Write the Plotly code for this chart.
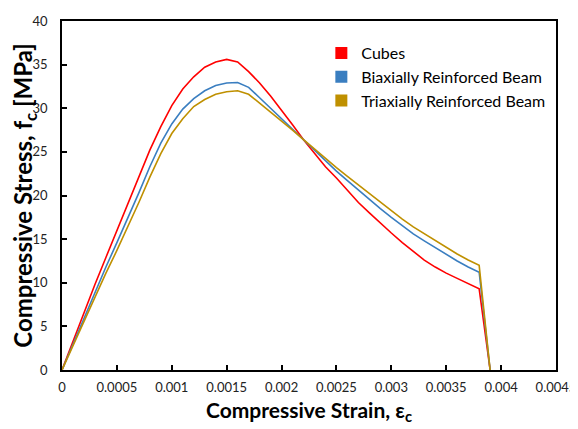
import plotly.graph_objects as go

strain = [0, 0.0001, 0.0002, 0.0003, 0.0004, 0.0005, 0.0006, 0.0007, 0.0008, 0.0009,
          0.001, 0.0011, 0.0012, 0.0013, 0.0014, 0.0015, 0.0016, 0.0017, 0.0018, 0.0019,
          0.002, 0.0021, 0.0022, 0.0023, 0.0024, 0.0025, 0.0026, 0.0027, 0.0028, 0.0029,
          0.003, 0.0031, 0.0032, 0.0033, 0.0034, 0.0035, 0.0036, 0.0037, 0.0038, 0.0039]

cubes = [0, 3.3, 6.6, 9.8, 12.9, 16.0, 19.1, 22.2, 25.2, 27.9,
         30.3, 32.2, 33.6, 34.7, 35.3, 35.6, 35.3, 34.2, 32.9, 31.4,
         29.8, 28.1, 26.4, 24.8, 23.3, 22.0, 20.6, 19.2, 18.0, 16.8,
         15.7, 14.6, 13.6, 12.6, 11.8, 11.1, 10.5, 9.9, 9.3, 0]

biaxial = [0, 3.0, 6.0, 8.9, 11.8, 14.6, 17.4, 20.3, 23.3, 26.0,
           28.2, 29.9, 31.1, 32.0, 32.6, 32.9, 32.95, 32.4, 31.2, 30.0,
           28.8, 27.6, 26.4, 25.1, 23.9, 22.8, 21.7, 20.6, 19.5, 18.5,
           17.5, 16.5, 15.6, 14.8, 14.0, 13.2, 12.5, 11.8, 11.2, 0]

triaxial = [0, 2.8, 5.6, 8.4, 11.1, 13.7, 16.4, 19.2, 22.1, 24.8,
            27.1, 28.8, 30.2, 31.0, 31.6, 31.9, 32.0, 31.6, 30.6, 29.6,
            28.6, 27.5, 26.4, 25.3, 24.2, 23.2, 22.2, 21.2, 20.2, 19.2,
            18.2, 17.3, 16.4, 15.6, 14.8, 14.0, 13.3, 12.6, 12.0, 0]

series_names = ["Cubes", "Biaxially Reinforced Beam", "Triaxially Reinforced Beam"]
series_colors = ["#FF0000", "#3A7EC0", "#BF9000"]

x_ticks = [0, 0.0005, 0.001, 0.0015, 0.002, 0.0025, 0.003, 0.0035, 0.004, 0.0045]
x_tick_text = ["0", "0.0005", "0.001", "0.0015", "0.002", "0.0025", "0.003", "0.0035", "0.004", "0.0045"]
y_ticks = [0, 5, 10, 15, 20, 25, 30, 35, 40]

FONT = "Lato, sans-serif"

fig = go.Figure()
for name, ys, col in zip(series_names, [cubes, biaxial, triaxial], series_colors):
    fig.add_trace(go.Scatter(x=strain, y=ys, mode="lines", line=dict(color=col, width=1.6),
                             showlegend=False, hoverinfo="skip"))
for i, (name, col) in enumerate(zip(series_names, series_colors)):
    fig.add_trace(go.Scatter(x=[None], y=[None], mode="markers", name=name,
                             legendgroup="g%d" % i,
                             marker=dict(symbol="square", size=13, color=col)))

axis_common = dict(showline=True, linecolor="black", linewidth=1.5, mirror=True,
                   ticks="inside", ticklen=5, tickwidth=1.5, tickcolor="black",
                   showgrid=False, zeroline=False, automargin=False,
                   tickfont=dict(family=FONT, size=13, color="#222"))

fig.update_layout(
    width=578, height=429,
    margin=dict(l=54, r=30, t=13, b=67),
    paper_bgcolor="white", plot_bgcolor="white",
    xaxis=dict(range=[0, 0.0045], tickvals=x_ticks, ticktext=x_tick_text,
               ticklabelstandoff=5, ticklabeloverflow="allow",
               title=dict(text="<b>Compressive Strain, ε<sub>c</sub></b>",
                          font=dict(family=FONT, size=21, color="black"),
                          standoff=9),
               **axis_common),
    yaxis=dict(range=[0, 40], tickvals=y_ticks, ticklabelstandoff=10,
               title=dict(text="<b>Compressive Stress, f<sub>c</sub> [MPa]</b>",
                          font=dict(family=FONT, size=24, color="black"),
                          standoff=7),
               **axis_common),
    legend=dict(x=0.525, y=0.957, xanchor="left", yanchor="top",
                bgcolor="rgba(0,0,0,0)", font=dict(family=FONT, size=16, color="black"),
                itemsizing="constant", tracegroupgap=0),
    showlegend=True,
)

fig.write_html("out.html")
